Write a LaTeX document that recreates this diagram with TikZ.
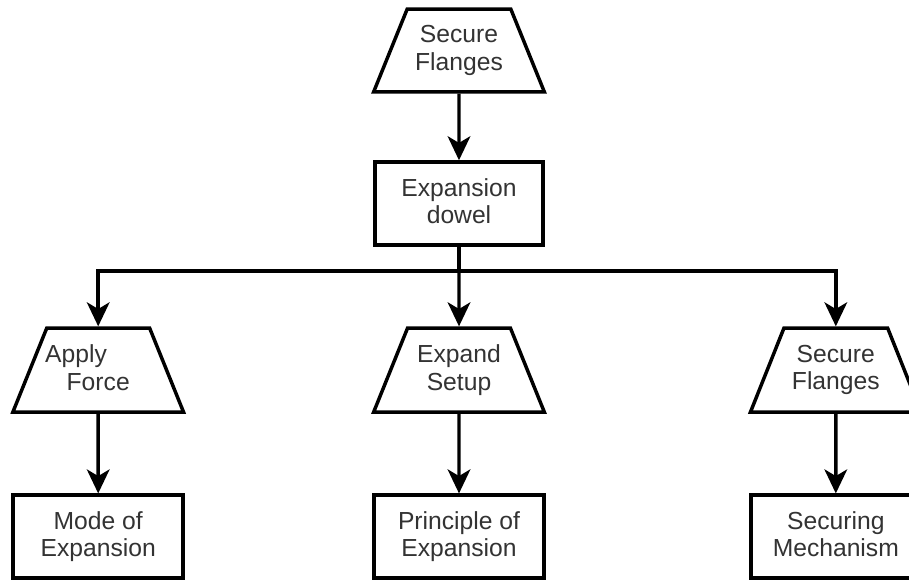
\documentclass[tikz,border=0pt]{standalone}
\usepackage{fontspec}
\setmainfont{Liberation Sans}
\usetikzlibrary{arrows.meta,positioning,shapes.geometric}
\definecolor{inkGray}{HTML}{333333}

\begin{document}
\begin{tikzpicture}[
  node distance=50pt and 140pt,
  lbl/.style={font=\fontsize{18.5}{20.5}\selectfont, text=inkGray, align=center,
              text depth=4pt},
  box/.style={lbl, draw=black, line width=2.6pt, fill=white,
              minimum width=127.5pt, minimum height=62.25pt, inner sep=2pt},
  trap/.style={lbl, draw=black, line width=2.6pt, fill=white,
               trapezium, trapezium angle=57.5, trapezium stretches body,
               minimum width=128pt, minimum height=63pt, inner sep=1pt},
  arr/.style={-{Stealth[length=18pt,width=17pt,inset=5pt]}, line width=2.6pt}
]
\useasboundingbox (-344.25pt,-397.9pt) rectangle (337.5pt,37.9pt);
\node[trap, minimum height=62pt] (sf0) at (0,0) {Secure\\Flanges};
\node[box, below=50pt of sf0, minimum width=126pt] (dowel) {Expansion\\dowel};
\node[trap, below=59.7pt of dowel]    (expand)    {Expand\\Setup};
\node[box, below=59.7pt of expand]    (principle) {Principle of\\Expansion};
\node[box, left=140.5pt of principle] (mode)      {Mode of\\Expansion};
\node[box, right=152.5pt of principle] (mech)     {Securing\\Mechanism};
\node[trap, above=59.7pt of mode]     (apply)     {\hspace*{-0.9em}Apply\hspace*{0.9em}\\Force};
\node[trap, above=59.7pt of mech]     (flanges)   {Secure\\Flanges};
\coordinate[below=18.2pt of dowel.south] (bus);

\draw[arr] (sf0) -- (dowel);
\draw[line width=2.6pt] (dowel) -- (bus);
\draw[arr] (bus) -| (apply);
\draw[arr] (bus) -- (expand);
\draw[arr] (bus) -| (flanges);
\draw[arr] (apply)   -- (mode);
\draw[arr] (expand)  -- (principle);
\draw[arr] (flanges) -- (mech);
\end{tikzpicture}
\end{document}
